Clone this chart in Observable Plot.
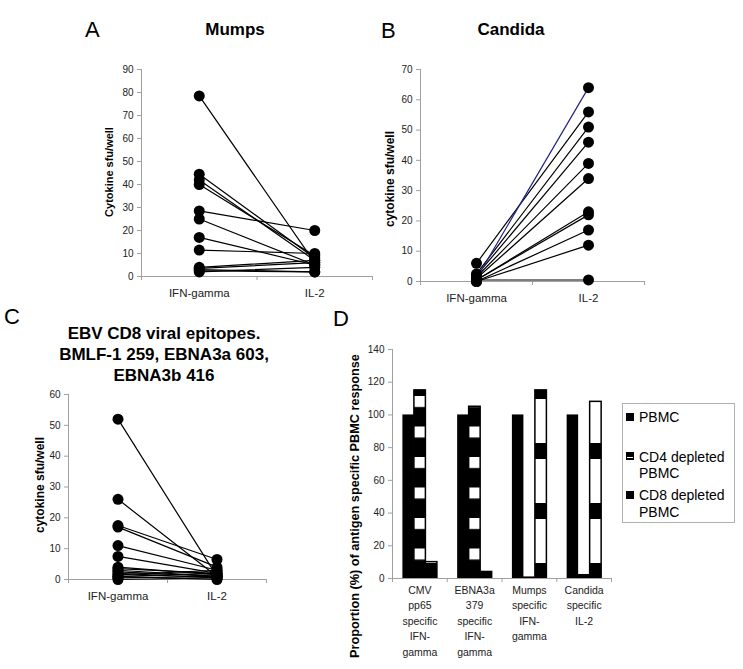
<!DOCTYPE html>
<html>
<head>
<meta charset="utf-8">
<script src="https://cdn.jsdelivr.net/npm/d3@7"></script>
<script src="https://cdn.jsdelivr.net/npm/@observablehq/plot@0.6"></script>
<style>
  html, body { margin: 0; padding: 0; background: #fff; }
  #root { position: relative; width: 743px; height: 669px; background: #fff; font-family: "Liberation Sans", Arial, sans-serif; color: #000; overflow: hidden; }
  .abs { position: absolute; white-space: nowrap; line-height: 1; }
  .panel { position: absolute; }
  .ylab { position: absolute; white-space: nowrap; font-weight: bold; transform: translate(-50%, -50%) rotate(-90deg); line-height: 1; }
  .sq { position: absolute; width: 8px; height: 8px; background: #000; }
</style>
</head>
<body>
<div id="root">
  <svg width="0" height="0" style="position:absolute">
    <defs>
      <pattern id="patCD4" patternUnits="userSpaceOnUse" x="0" y="0" width="2000" height="30.5">
        <rect x="0" y="0" width="2000" height="30.5" fill="#000"></rect>
        <rect x="0" y="0" width="2000" height="11" fill="#fff"></rect>
      </pattern>
      <pattern id="patCD8" patternUnits="userSpaceOnUse" x="0" y="0" width="2000" height="60">
        <rect x="0" y="0" width="2000" height="60" fill="#fff"></rect>
        <rect x="0" y="0" width="2000" height="4" fill="#000"></rect>
        <rect x="0" y="48" width="2000" height="12" fill="#000"></rect>
      </pattern>
    </defs>
  </svg>
</div>
<script>
// ---------- data ----------
const lineCategories = ["IFN-gamma", "IL-2"];

const mumpsIFN = [78.5, 44.5, 42, 40, 28.5, 25, 17, 11.5, 4, 3.5, 3, 2.5, 2];
const mumpsIL2 = [6, 8, 7, 9, 20, 5, 5, 10, 7, 6, 2, 2, 4];

const candidaIFN = [1, 6, 2.5, 2, 1.5, 1, 0.5, 0.5, 0, 0, 0.5];
const candidaIL2 = [64, 56, 51, 46, 39, 34, 23, 22, 17, 12, 0.5];

const ebvIFN = [52, 26, 17.5, 17, 11, 7.5, 4, 3.5, 3, 2.5, 2, 1.5, 1, 1, 0.5, 0];
const ebvIL2 = [1, 1, 6.5, 4, 3, 2, 1.5, 2, 1, 1, 0.5, 3, 2, 0, 1, 0.5];

const barGroups = [
  "CMV\npp65\nspecific\nIFN-\ngamma",
  "EBNA3a\n379\nspecific\nIFN-\ngamma",
  "Mumps\nspecific\nIFN-\ngamma",
  "Candida\nspecific\nIL-2"
];
const barSeries = ["PBMC", "CD4 depleted PBMC", "CD8 depleted PBMC"];
const pbmcValues = [100, 100, 100, 100];
const cd4DepletedValues = [115, 105, 0.5, 2];
const cd8DepletedValues = [10, 4, 115, 108];

// ---------- helpers ----------
const root = document.getElementById("root");
const FONT = "'Liberation Sans', Arial, sans-serif";

function addText(txt, left, top, size, opts = {}) {
  const d = document.createElement("div");
  d.className = "abs";
  d.textContent = txt;
  d.style.left = left + "px";
  d.style.top = top + "px";
  d.style.fontSize = size + "px";
  if (opts.bold) d.style.fontWeight = "bold";
  if (opts.center) { d.style.transform = "translateX(-50%)"; d.style.textAlign = "center"; }
  if (opts.lineHeight) { d.style.lineHeight = opts.lineHeight; d.style.whiteSpace = "pre"; }
  root.appendChild(d);
  return d;
}
function addYLabel(txt, cx, cy, size) {
  const d = document.createElement("div");
  d.className = "ylab";
  d.textContent = txt;
  d.style.left = cx + "px";
  d.style.top = cy + "px";
  d.style.fontSize = size + "px";
  root.appendChild(d);
}
function place(svg, left, top) {
  const w = document.createElement("div");
  w.className = "panel";
  w.style.left = left + "px";
  w.style.top = top + "px";
  w.appendChild(svg);
  root.appendChild(w);
}

function linePanel(ifn, il2, ymax, dims, highlight) {
  const rows = [];
  ifn.forEach((v, i) => {
    rows.push({subject: i, pos: 0.5, v: v});
    rows.push({subject: i, pos: 1.5, v: il2[i]});
  });
  const normal = rows.filter(d => d.subject !== highlight);
  const hl = rows.filter(d => d.subject === highlight);
  return Plot.plot({
    width: dims.width, height: dims.height,
    marginLeft: dims.ml, marginTop: dims.mt, marginRight: 10, marginBottom: dims.mb,
    style: {fontFamily: FONT, background: "transparent", overflow: "visible"},
    x: {domain: [0, 2], axis: null},
    y: {domain: [0, ymax], axis: null},
    marks: [
      Plot.ruleY([0], {stroke: "#a0a0a0"}),
      Plot.ruleX([0], {y1: 0, y2: ymax, stroke: "#a0a0a0"}),
      Plot.axisY({ticks: d3.range(0, ymax + 1, 10), tickSize: 4, tickPadding: 4, stroke: "#a0a0a0", fill: "#222", fontSize: 10, label: null, tickFormat: d3.format("d")}),
      Plot.axisX({ticks: [0, 1, 2], tickSize: 4, tickFormat: () => "", stroke: "#a0a0a0", label: null}),
      Plot.axisX({ticks: [0.5, 1.5], tickSize: 0, tickPadding: 12, tickFormat: d => lineCategories[Math.floor(d)], fontSize: 11.5, fill: "#222", label: null}),
      Plot.line(normal, {x: "pos", y: "v", z: "subject", stroke: "#000", strokeWidth: 1.2}),
      Plot.line(hl, {x: "pos", y: "v", z: "subject", stroke: "#24248a", strokeWidth: 1.2}),
      Plot.dot(rows, {x: "pos", y: "v", r: 5.5, fill: "#000", stroke: null})
    ]
  });
}

// ---------- panel A ----------
addText("A", 85, 19, 22);
addText("Mumps", 235, 21, 17, {bold: true, center: true});
addYLabel("Cytokine sfu/well", 109, 172, 11);
place(linePanel(mumpsIFN, mumpsIL2, 90, {width: 322, height: 251, ml: 81, mt: 14, mb: 30}), 60, 55);

// ---------- panel B ----------
addText("B", 381, 20, 22);
addText("Candida", 511, 21, 17, {bold: true, center: true});
addYLabel("cytokine sfu/well", 390, 179, 12);
place(linePanel(candidaIFN, candidaIL2, 70, {width: 314, height: 256, ml: 80, mt: 14, mb: 30}, 0), 340, 55);

// ---------- panel C ----------
addText("C", 4, 306, 22);
addText("EBV CD8 viral epitopes.\nBMLF-1 259, EBNA3a 603,\nEBNA3b 416", 164, 323, 17, {bold: true, center: true, lineHeight: "21px"});
addYLabel("cytokine sfu/well", 40, 485, 12);
place(linePanel(ebvIFN, ebvIL2, 60, {width: 276, height: 229, ml: 68, mt: 14, mb: 30}), 0, 380);

// ---------- panel D ----------
addText("D", 333, 308, 22);
addYLabel("Proportion (%) of antigen specific PBMC response", 355, 506, 12.7);

const barW = 0.21, barStart = 0.19;
function barRows(values, s) {
  return values.map((v, g) => ({g, s, x1: g + barStart + s * barW, x2: g + barStart + (s + 1) * barW, v}));
}
const labelRows = barGroups.map((t, g) => ({x: g + 0.5, t}));

const plotD = Plot.plot({
  width: 291, height: 334,
  marginLeft: 62, marginTop: 14, marginRight: 10, marginBottom: 91,
  style: {fontFamily: FONT, background: "transparent", overflow: "visible"},
  x: {domain: [0, 4], axis: null},
  y: {domain: [0, 140], axis: null},
  marks: [
    Plot.ruleX([0], {y1: 0, y2: 140, stroke: "#a0a0a0"}),
    Plot.axisY({ticks: d3.range(0, 141, 20), tickSize: 4, tickPadding: 4, stroke: "#a0a0a0", fill: "#222", fontSize: 10, label: null}),
    Plot.axisX({ticks: [0, 1, 2, 3, 4], tickSize: 4, tickFormat: () => "", stroke: "#a0a0a0", label: null}),
    Plot.rectY(barRows(pbmcValues, 0), {x1: "x1", x2: "x2", y1: 0, y2: "v", fill: "#000"}),
    Plot.rectY(barRows(cd4DepletedValues, 1), {x1: "x1", x2: "x2", y1: 0, y2: "v", fill: "url(#patCD4)", stroke: "#000", strokeWidth: 1.5}),
    Plot.rectY(barRows(cd8DepletedValues, 2), {x1: "x1", x2: "x2", y1: 0, y2: "v", fill: "url(#patCD8)", stroke: "#000", strokeWidth: 1.5}),
    Plot.ruleY([0], {stroke: "#a0a0a0"}),
    Plot.text(labelRows, {x: "x", y: () => 0, text: "t", dy: 4, lineAnchor: "top", lineHeight: 1.48, fontSize: 10.5, fill: "#222"})
  ]
});
place(plotD, 330, 335);

// legend
const lg = document.createElement("div");
lg.style.cssText = "position:absolute;left:622px;top:403px;width:111px;height:118px;border:1px solid #b0b0b0;background:#fff";
root.appendChild(lg);
function sq(left, top, kind) {
  const s = document.createElement("div");
  s.className = "sq";
  s.style.left = left + "px"; s.style.top = top + "px";
  if (kind === "cd4") { s.style.boxSizing = "border-box"; s.style.border = "1px solid #000"; s.style.background = "linear-gradient(#000 0 60%, #fff 60% 80%, #000 80%)"; }
  root.appendChild(s);
}
sq(626, 413, "pbmc");
sq(626, 452, "cd4");
sq(626, 491, "cd8");
addText(barSeries[0], 639, 410, 14);
addText("CD4 depleted", 639, 450, 14);
addText("PBMC", 639, 466, 14);
addText("CD8 depleted", 639, 488, 14);
addText("PBMC", 639, 505, 14);
</script>
</body>
</html>
